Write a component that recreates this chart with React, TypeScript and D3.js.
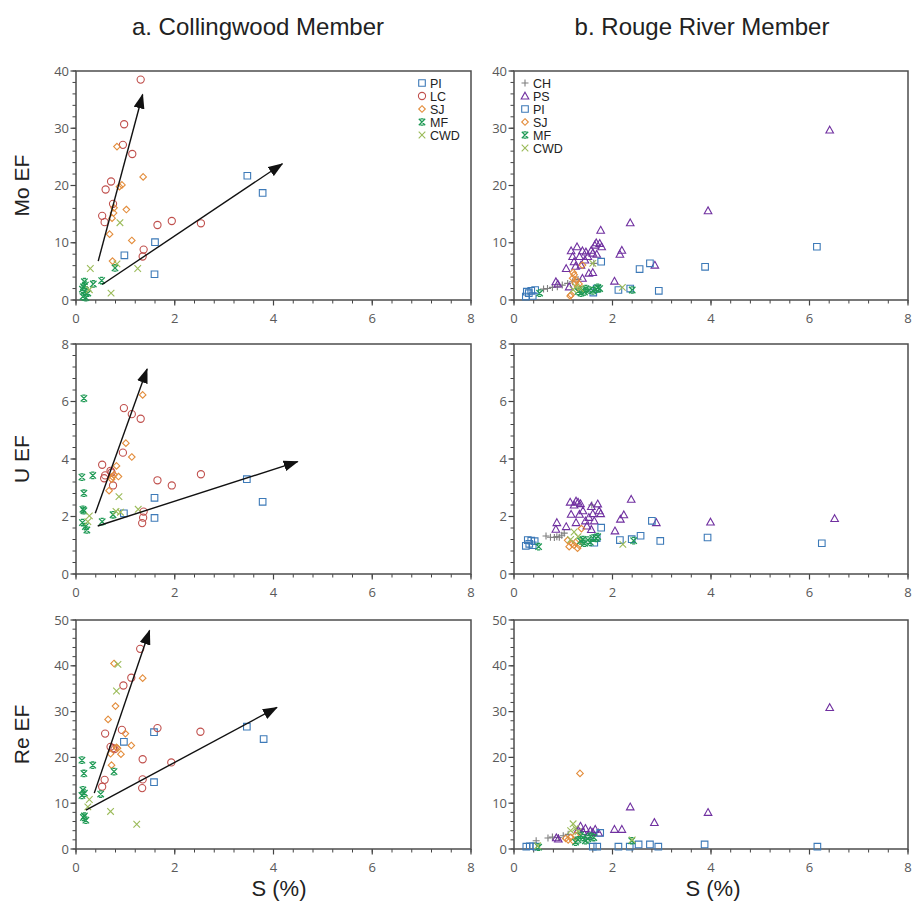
import { useEffect, useRef } from "react";
import * as d3 from "d3";

type Pt = [number, number];

// Tick labels
const xTicks = [0, 2, 4, 6, 8];
const moTicks = [0, 10, 20, 30, 40];
const uTicks = [0, 2, 4, 6, 8];
const reTicks = [0, 10, 20, 30, 40, 50];

// ---------- a. Collingwood Member ----------
const moColPI: Pt[] = [[3.47, 21.7], [3.78, 18.7], [1.6, 10.1], [0.98, 7.8], [1.59, 4.5]];
const moColLC: Pt[] = [
  [1.31, 38.5], [0.975, 30.7], [0.95, 27.1], [1.14, 25.5], [0.71, 20.7], [0.6, 19.3], [0.75, 16.8],
  [0.53, 14.7], [0.58, 13.6], [1.65, 13.1], [1.94, 13.8], [2.53, 13.4], [1.37, 8.8], [1.35, 7.6],
];
const moColSJ: Pt[] = [
  [0.83, 26.8], [0.88, 19.8], [0.93, 20.1], [1.36, 21.5], [1.02, 15.8], [0.77, 16.1], [0.73, 14.3],
  [0.68, 11.5], [1.13, 10.4], [0.74, 6.8], [0.76, 15.2],
];
const moColMF: Pt[] = [
  [0.17, 3.2], [0.15, 2.3], [0.17, 1.5], [0.14, 0.6], [0.24, 1.2], [0.35, 2.8], [0.52, 3.4],
  [0.79, 5.6], [0.2, 0.4], [0.13, 1.9], [0.19, 2.6],
];
const moColCWD: Pt[] = [[0.29, 5.5], [0.89, 13.5], [1.25, 5.5], [0.71, 1.2], [0.27, 1.8], [0.83, 6.3]];

const uColPI: Pt[] = [[3.46, 3.3], [3.78, 2.51], [1.59, 2.65], [1.59, 1.95], [0.97, 2.11]];
const uColLC: Pt[] = [
  [0.97, 5.77], [1.13, 5.56], [1.31, 5.4], [0.95, 4.22], [0.53, 3.8], [0.59, 3.43], [0.57, 3.33],
  [0.72, 3.53], [0.75, 3.08], [1.65, 3.26], [1.94, 3.08], [2.53, 3.47], [1.37, 2.17], [1.36, 1.96],
  [1.34, 1.77], [0.7, 3.59],
];
const uColSJ: Pt[] = [
  [1.35, 6.23], [1.01, 4.55], [1.13, 4.07], [0.82, 3.76], [0.86, 3.39], [0.74, 3.38], [0.67, 2.9],
  [0.77, 3.45], [0.72, 3.3],
];
const uColMF: Pt[] = [
  [0.16, 6.11], [0.12, 3.37], [0.34, 3.43], [0.16, 2.81], [0.14, 2.25], [0.16, 2.2], [0.13, 1.79],
  [0.19, 1.65], [0.22, 1.53], [0.53, 1.82], [0.75, 2.06],
];
const uColCWD: Pt[] = [[0.87, 2.69], [1.26, 2.25], [0.27, 2.02], [0.24, 1.82], [0.81, 2.18], [0.9, 2.15]];

const reColPI: Pt[] = [[3.46, 26.7], [3.8, 24.0], [1.58, 25.5], [0.97, 23.4], [1.58, 14.6]];
const reColLC: Pt[] = [
  [1.3, 43.7], [1.12, 37.4], [0.96, 35.7], [0.93, 26.0], [0.59, 25.2], [1.65, 26.4], [2.52, 25.6],
  [0.7, 22.3], [0.75, 22.0], [1.35, 19.6], [1.93, 18.9], [0.58, 15.1], [0.53, 13.6], [1.35, 15.2],
  [1.34, 13.3], [0.78, 21.8],
];
const reColSJ: Pt[] = [
  [0.77, 40.5], [1.35, 37.3], [0.8, 31.2], [0.65, 28.3], [1.0, 25.2], [1.12, 22.6], [0.84, 22.0],
  [0.91, 20.7], [0.7, 20.8], [0.72, 18.3], [0.82, 22.2],
];
const reColMF: Pt[] = [
  [0.12, 19.4], [0.34, 18.3], [0.16, 16.5], [0.77, 16.9], [0.14, 12.9], [0.17, 12.2], [0.12, 11.7],
  [0.5, 12.0], [0.15, 6.9], [0.2, 6.3], [0.17, 7.2],
];
const reColCWD: Pt[] = [[0.85, 40.3], [0.82, 34.5], [0.7, 8.2], [1.23, 5.4], [0.27, 10.8], [0.24, 9.2]];

// trend arrows [x0, y0, x1, y1]
const moColArrows = [[0.45, 6.8, 1.35, 35.9], [0.53, 2.7, 4.18, 23.8]];
const uColArrows = [[0.39, 2.11, 1.44, 7.13], [0.44, 1.67, 4.49, 3.91]];
const reColArrows = [[0.37, 12.2, 1.49, 47.7], [0.2, 8.5, 4.07, 30.9]];

// ---------- b. Rouge River Member ----------
const moRouCH: Pt[] = [
  [0.68, 2.0], [0.78, 2.2], [0.88, 2.3], [0.98, 2.6], [1.09, 2.9], [1.19, 3.2], [1.62, 6.4], [0.6, 1.9], [1.3, 3.6],
];
const moRouPS: Pt[] = [
  [6.41, 29.7], [3.94, 15.6], [2.36, 13.5], [1.76, 12.2], [2.19, 8.7], [2.15, 8.0], [2.86, 6.1], [2.04, 3.3],
  [1.16, 8.6], [1.28, 9.3], [1.39, 8.6], [1.19, 7.6], [1.33, 7.6], [1.5, 7.6], [1.57, 8.7], [1.64, 9.6],
  [1.67, 10.0], [1.74, 9.9], [1.78, 9.3], [1.6, 8.2], [1.68, 8.0], [1.46, 8.4], [1.22, 6.7], [1.06, 5.5],
  [1.52, 4.7], [1.6, 4.8], [1.39, 3.8], [0.85, 3.2], [0.89, 2.8], [1.12, 2.3], [1.36, 6.1], [1.25, 5.9], [1.44, 7.0],
];
const moRouPI: Pt[] = [
  [6.15, 9.3], [3.88, 5.8], [2.76, 6.4], [2.55, 5.4], [2.94, 1.6], [2.36, 2.0], [2.12, 1.75], [1.77, 6.7],
  [1.61, 1.3], [1.68, 2.0], [0.26, 1.45], [0.35, 1.6], [0.43, 1.75], [0.24, 0.6], [0.38, 0.7], [0.3, 1.2],
];
const moRouSJ: Pt[] = [
  [1.14, 0.7], [1.22, 4.4], [1.19, 3.8], [1.26, 3.5], [1.29, 2.3], [1.16, 0.9], [1.39, 6.1], [1.24, 3.0],
  [1.32, 2.8], [1.2, 4.8],
];
const moRouMF: Pt[] = [
  [0.52, 1.2], [1.39, 1.75], [1.46, 2.0], [1.53, 1.75], [1.36, 1.2], [1.67, 1.9], [1.7, 2.2], [2.4, 1.75],
  [1.43, 1.4], [1.6, 1.6], [1.3, 1.5], [1.74, 2.0],
];
const moRouCWD: Pt[] = [[2.2, 2.2], [1.26, 2.3], [1.6, 6.4], [1.35, 2.0], [1.2, 1.8]];

const uRouCH: Pt[] = [[0.65, 1.32], [0.74, 1.28], [0.82, 1.27], [0.92, 1.28], [1.02, 1.42], [0.97, 1.35], [1.58, 2.4], [0.87, 1.3]];
const uRouPS: Pt[] = [
  [6.51, 1.93], [3.99, 1.81], [2.38, 2.6], [2.23, 2.06], [2.16, 1.91], [2.89, 1.79], [2.05, 1.5],
  [1.14, 2.5], [1.26, 2.54], [1.3, 2.5], [1.35, 2.45], [1.22, 2.4], [1.16, 2.08], [1.33, 2.08], [1.57, 2.35],
  [1.7, 2.44], [1.73, 2.2], [1.76, 2.1], [1.6, 2.1], [1.52, 1.97], [1.45, 1.85], [1.48, 1.67], [1.63, 1.85],
  [0.87, 1.79], [0.85, 1.56], [1.06, 1.65], [1.26, 1.79], [1.57, 1.55], [1.4, 2.2],
];
const uRouPI: Pt[] = [
  [6.25, 1.07], [3.93, 1.27], [2.8, 1.85], [2.57, 1.33], [2.97, 1.15], [2.15, 1.18], [2.39, 1.21],
  [1.77, 1.61], [1.63, 1.09], [1.68, 1.25], [0.24, 0.98], [0.28, 1.18], [0.35, 1.16], [0.42, 1.14],
  [0.38, 1.0], [0.31, 1.05],
];
const uRouSJ: Pt[] = [[1.12, 0.95], [1.22, 1.0], [1.29, 0.9], [1.09, 1.17], [1.37, 1.58], [1.25, 1.1], [1.18, 1.05], [1.32, 1.0]];
const uRouMF: Pt[] = [
  [0.5, 0.95], [1.43, 1.07], [1.5, 1.18], [1.6, 1.25], [1.67, 1.24], [1.4, 1.2], [1.35, 1.15], [2.43, 1.16],
  [1.7, 1.3], [1.55, 1.1],
];
const uRouCWD: Pt[] = [[2.21, 1.03], [1.22, 1.46], [1.3, 1.3], [1.15, 1.2]];

const reRouCH: Pt[] = [[0.45, 1.8], [0.69, 2.4], [0.78, 2.6], [0.9, 2.5], [1.0, 2.9], [1.1, 3.2]];
const reRouPS: Pt[] = [
  [6.41, 30.9], [2.36, 9.2], [3.94, 8.0], [2.85, 5.8], [2.04, 4.3], [2.19, 4.3], [0.86, 2.45], [1.35, 5.0],
  [1.45, 4.5], [1.55, 4.0], [1.65, 4.3], [1.72, 3.5], [1.3, 4.2], [1.5, 3.0], [1.6, 3.6], [1.4, 3.8], [0.9, 2.2],
];
const reRouPI: Pt[] = [
  [6.16, 0.5], [3.87, 1.0], [2.76, 1.0], [2.93, 0.5], [2.53, 1.0], [2.12, 0.5], [2.35, 0.5], [1.6, 0.5],
  [1.69, 0.5], [0.25, 0.5], [0.32, 0.6], [0.39, 0.6], [0.45, 0.5], [1.75, 3.5],
];
const reRouSJ: Pt[] = [[1.34, 16.5], [1.1, 2.0], [1.15, 2.5], [1.2, 1.8], [1.25, 3.0], [1.05, 2.3]];
const reRouMF: Pt[] = [
  [2.39, 1.8], [0.5, 0.4], [1.3, 2.0], [1.4, 2.5], [1.45, 1.8], [1.5, 2.2], [1.55, 2.8], [1.35, 3.0],
  [1.62, 2.5], [1.25, 1.5],
];
const reRouCWD: Pt[] = [[1.2, 5.5], [1.15, 4.0], [1.25, 4.5], [1.3, 3.8], [2.4, 2.0], [0.48, 0.7]];

const seriesStyle: Record<string, { color: string; shape: string }> = {
  CH: { color: "#7f7f7f", shape: "plus" },
  PS: { color: "#7030a0", shape: "triangle" },
  PI: { color: "#3d7ab8", shape: "square" },
  LC: { color: "#c0504d", shape: "circle" },
  SJ: { color: "#e38d3c", shape: "diamond" },
  MF: { color: "#1f9a55", shape: "star" },
  CWD: { color: "#9bbb59", shape: "x" },
};

function shapePath(shape: string): string {
  switch (shape) {
    case "square": {
      const s = 3.3;
      return `M${-s},${-s}H${s}V${s}H${-s}Z`;
    }
    case "circle": {
      const r = 3.6;
      return `M${r},0A${r},${r} 0 1,1 ${-r},0A${r},${r} 0 1,1 ${r},0Z`;
    }
    case "diamond": {
      const s = 3.3;
      return `M0,${-s}L${s},0L0,${s}L${-s},0Z`;
    }
    case "triangle": {
      const s = 3.8;
      return `M0,${-s}L${s},${s * 0.8}L${-s},${s * 0.8}Z`;
    }
    case "star": {
      // x with short caps top and bottom
      const s = 3.2;
      const c = 1.6;
      return `M${-s},${-s}L${s},${s}M${-s},${s}L${s},${-s}M${-c},${-s}H${c}M${-c},${s}H${c}`;
    }
    case "x": {
      const s = 3.3;
      return `M${-s},${-s}L${s},${s}M${-s},${s}L${s},${-s}`;
    }
    default: {
      const s = 3.5;
      return `M${-s},0H${s}M0,${-s}V${s}`;
    }
  }
}

const rows = [[71, 300], [344, 574], [620, 849]];
const cols = [[76, 471], [514, 908]];

const panels = [
  { row: 0, col: 0, yTicks: moTicks, yMinor: 2, arrows: moColArrows,
    series: { PI: moColPI, LC: moColLC, SJ: moColSJ, MF: moColMF, CWD: moColCWD } },
  { row: 1, col: 0, yTicks: uTicks, yMinor: 0.4, arrows: uColArrows,
    series: { PI: uColPI, LC: uColLC, SJ: uColSJ, MF: uColMF, CWD: uColCWD } },
  { row: 2, col: 0, yTicks: reTicks, yMinor: 2, arrows: reColArrows,
    series: { PI: reColPI, LC: reColLC, SJ: reColSJ, MF: reColMF, CWD: reColCWD } },
  { row: 0, col: 1, yTicks: moTicks, yMinor: 2, arrows: [],
    series: { CH: moRouCH, PS: moRouPS, PI: moRouPI, SJ: moRouSJ, MF: moRouMF, CWD: moRouCWD } },
  { row: 1, col: 1, yTicks: uTicks, yMinor: 0.4, arrows: [],
    series: { CH: uRouCH, PS: uRouPS, PI: uRouPI, SJ: uRouSJ, MF: uRouMF, CWD: uRouCWD } },
  { row: 2, col: 1, yTicks: reTicks, yMinor: 2, arrows: [],
    series: { CH: reRouCH, PS: reRouPS, PI: reRouPI, SJ: reRouSJ, MF: reRouMF, CWD: reRouCWD } },
];

const tickFont = "'Open Sans', 'DejaVu Sans', sans-serif";
const textFont = "'Liberation Sans', Arial, sans-serif";

export default function App() {
  const ref = useRef<SVGSVGElement>(null);

  useEffect(() => {
    if (!ref.current) return;
    const svg = d3.select(ref.current);
    svg.selectAll("*").remove();

    svg.append("rect").attr("width", 915).attr("height", 906).attr("fill", "#fff");

    svg.append("defs")
      .append("marker")
      .attr("id", "arrowhead")
      .attr("viewBox", "0 0 15 11")
      .attr("refX", 14)
      .attr("refY", 5.5)
      .attr("markerWidth", 15)
      .attr("markerHeight", 11)
      .attr("markerUnits", "userSpaceOnUse")
      .attr("orient", "auto")
      .append("path")
      .attr("d", "M0,0L15,5.5L0,11Z")
      .attr("fill", "#111");

    panels.forEach((p) => {
      const [top, bottom] = rows[p.row];
      const [left, right] = cols[p.col];
      const yMax = p.yTicks[p.yTicks.length - 1];
      const x = d3.scaleLinear().domain([0, 8]).range([left, right]);
      const y = d3.scaleLinear().domain([0, yMax]).range([bottom, top]);
      const g = svg.append("g");

      // minor ticks
      d3.range(0, 8.0001, 0.4).forEach((v) => {
        g.append("line").attr("x1", x(v)).attr("x2", x(v)).attr("y1", bottom).attr("y2", bottom + 3.5)
          .attr("stroke", "#444").attr("stroke-width", 1);
      });
      d3.range(0, yMax + 0.0001, p.yMinor).forEach((v) => {
        g.append("line").attr("x1", left - 3.5).attr("x2", left).attr("y1", y(v)).attr("y2", y(v))
          .attr("stroke", "#444").attr("stroke-width", 1);
      });
      // major ticks + labels
      xTicks.forEach((v) => {
        g.append("line").attr("x1", x(v)).attr("x2", x(v)).attr("y1", bottom).attr("y2", bottom + 5.5)
          .attr("stroke", "#444").attr("stroke-width", 1.2);
        g.append("text").attr("x", x(v)).attr("y", bottom + 23).attr("text-anchor", "middle")
          .attr("font-family", tickFont).attr("font-size", 13).attr("fill", "#595959").text(v);
      });
      p.yTicks.forEach((v) => {
        g.append("line").attr("x1", left - 5.5).attr("x2", left).attr("y1", y(v)).attr("y2", y(v))
          .attr("stroke", "#444").attr("stroke-width", 1.2);
        g.append("text").attr("x", left - 7).attr("y", y(v)).attr("dy", "0.36em").attr("text-anchor", "end")
          .attr("font-family", tickFont).attr("font-size", 13).attr("fill", "#595959").text(v);
      });

      g.append("rect").attr("x", left).attr("y", top).attr("width", right - left).attr("height", bottom - top)
        .attr("fill", "none").attr("stroke", "#4d4d4d").attr("stroke-width", 1.5);

      // points
      Object.entries(p.series).forEach(([name, pts]) => {
        const st = seriesStyle[name];
        g.append("g").selectAll("path").data(pts as Pt[]).enter().append("path")
          .attr("transform", (d) => `translate(${x(d[0])},${y(d[1])})`)
          .attr("d", shapePath(st.shape))
          .attr("fill", "none")
          .attr("stroke", st.color)
          .attr("stroke-width", st.shape === "star" ? 1.3 : 1.1);
      });

      // arrows
      p.arrows.forEach((a) => {
        g.append("line").attr("x1", x(a[0])).attr("y1", y(a[1])).attr("x2", x(a[2])).attr("y2", y(a[3]))
          .attr("stroke", "#111").attr("stroke-width", 1.4).attr("marker-end", "url(#arrowhead)");
      });

      // legend in top row
      if (p.row === 0) {
        const names = Object.keys(p.series);
        const lx = p.col === 0 ? right - 49 : left + 11;
        const ly = top + 12;
        names.forEach((n, i) => {
          const st = seriesStyle[n];
          g.append("path").attr("transform", `translate(${lx},${ly + i * 13})`)
            .attr("d", shapePath(st.shape)).attr("fill", "none").attr("stroke", st.color)
            .attr("stroke-width", st.shape === "star" ? 1.3 : 1.1);
          g.append("text").attr("x", lx + 8).attr("y", ly + i * 13).attr("dy", "0.36em")
            .attr("font-family", textFont).attr("font-size", 12.5).attr("fill", "#222").text(n);
        });
      }
    });

    // titles
    [["a. Collingwood Member", 258], ["b. Rouge River Member", 702]].forEach(([t, cx]) => {
      svg.append("text").attr("x", cx).attr("y", 35).attr("text-anchor", "middle")
        .attr("font-family", textFont).attr("font-size", 24).attr("fill", "#222").text(t as string);
    });
    [279, 713].forEach((cx) => {
      svg.append("text").attr("x", cx).attr("y", 896).attr("text-anchor", "middle")
        .attr("font-family", textFont).attr("font-size", 22).attr("fill", "#222").text("S (%)");
    });
    ["Mo EF", "U EF", "Re EF"].forEach((t, i) => {
      const cy = (rows[i][0] + rows[i][1]) / 2;
      svg.append("text").attr("transform", `translate(29,${cy}) rotate(-90)`).attr("text-anchor", "middle")
        .attr("font-family", textFont).attr("font-size", 21).attr("fill", "#222").text(t);
    });
  }, []);

  return (
    <svg
      ref={ref}
      width={915}
      height={906}
      style={{ position: "absolute", left: 0, top: 0, display: "block" }}
    />
  );
}
